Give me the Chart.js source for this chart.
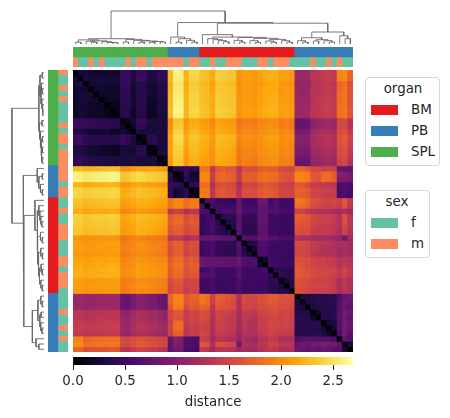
<!DOCTYPE html>
<html>
<head>
<meta charset="utf-8">
<script src="https://cdn.jsdelivr.net/npm/chart.js@4"></script>
<style>
  body { margin: 0; background: #fff; font-family: "DejaVu Sans", sans-serif; color: #262626; }
  canvas { position: absolute; }
  .legend { position: absolute; box-sizing: border-box; border: 1px solid #d6d6d6; border-radius: 4px; background: #fff; }
  .legend div { position: absolute; font-size: 13.4px; line-height: 16px; white-space: nowrap; }
  .legend .swatch { width: 27px; height: 10px; left: 5px; }
</style>
</head>
<body>
<canvas id="topTree" width="280" height="35" style="left:73px;top:9px"></canvas>
<canvas id="leftTree" width="34" height="282" style="left:10px;top:70px"></canvas>
<canvas id="colColors" width="280" height="20" style="left:73px;top:47px"></canvas>
<canvas id="rowColors" width="20" height="282" style="left:48px;top:70px"></canvas>
<canvas id="heat" width="280" height="282" style="left:73px;top:70px"></canvas>
<canvas id="cbar" width="340" height="54" style="left:43px;top:357px"></canvas>
<div id="legends"></div>
<script>
const organNames = ["BM", "PB", "SPL"];
const organColors = ["#e41a1c", "#377eb8", "#4daf4a"];
const sexNames = ["f", "m"];
const sexColors = ["#66c2a5", "#fc8d62"];

// leaf order, same for rows and columns
const organLeaf = "SSSSSSSSSSSSSSSSSS PPPPPP BBBBBBBBBBBBBBBBBB PPPPPPPPPPP".replace(/ /g, "").split("");
const sexLeaf = "m ff m f m ffff m f mm f mmmmmm f mm ff m ff mmm fff mm f mmm ffff m ff m f m ff".replace(/ /g, "").split("");
const leaves = organLeaf.map((_, i) => String(i));

// linkage: [height, left, right], 0 = a leaf
const splA = [.125, [.055, 0, 0], [.095, [.085, 0, [.055, 0, 0]], [.07, 0, [.05, 0, [.04, 0, 0]]]]];
const splB = [.14, [.06, 0, 0], [.11, 0, [.09, [.05, 0, 0], [.075, [.05, 0, 0], [.06, 0, 0]]]]];
const pbFirst = [.21, 0, [.16, [.055, 0, 0], [.11, 0, [.055, 0, 0]]]];
const bmTree = [.283, 0, [.21, [.16, 0, [.13, 0, [.1, 0, [.07, 0, 0]]]],
  [.2, [.11, 0, [.055, 0, 0]], [.17, [.1, 0, [.05, 0, 0]], [.14, [.09, 0, [.055, 0, 0]], [.1, 0, [.055, 0, 0]]]]]]];
const pbSecond = [.363, [.19, [.1, 0, [.055, 0, 0]], [.13, [.09, 0, 0], [.1, 0, [.06, 0, 0]]]], [.25, 0, [.16, 0, 0]]];
const linkage = [1, [.16, splA, splB], [.65, pbFirst, [.63, bmTree, pbSecond]]];

// distance x 100, upper triangle, each row starts right of the diagonal
const upper = [
[25,26,22,20,22,19,18,19, 47,47,30,47,47,32,32,42,42, 225,260,260,222,242,242, 230,228,218,238,236,234,232,206,212,212,208,214,218,220,222,210,212,208, 112,110,112,132,135,140,142,138,195,200,175],
[30,24,28,27,24,26,24, 50,47,30,52,52,33,33,44,44, 226,258,258,224,240,240, 232,228,220,238,236,234,232,205,210,212,208,214,218,222,220,212,212,208, 114,112,112,134,134,140,144,138,195,200,175],
[22,24,26,22,24,22, 46,45,26,40,40,27,27,36,36, 222,252,252,218,236,236, 226,224,214,232,232,228,226,202,208,208,204,210,214,216,218,206,208,204, 108,108,108,128,130,136,138,132,176,182,159],
[22,22,20,20,20, 44,44,22,38,38,25,25,34,34, 222,254,254,220,238,238, 228,226,216,234,232,230,228,204,208,208,206,212,216,218,218,208,210,206, 110,108,110,130,130,138,140,134,178,184,161],
[20,18,17,17, 42,42,22,38,38,24,24,33,33, 224,256,256,222,240,240, 228,226,218,236,234,232,228,204,210,210,206,214,218,218,220,208,210,206, 110,108,110,130,132,138,140,134,180,186,161],
[17,16,16, 40,40,22,38,38,20,20,33,33, 226,258,258,222,240,240, 230,226,218,236,234,232,230,204,210,210,208,214,216,220,220,210,210,208, 110,110,112,130,134,140,142,136,180,186,163],
[12,12, 40,40,24,38,38,18,18,32,32, 226,260,260,224,240,240, 230,228,218,238,234,232,230,206,212,210,208,214,218,220,222,210,212,208, 112,110,112,132,134,142,142,138,182,186,163],
[8, 38,38,20,36,36,16,16,30,30, 228,262,262,224,242,242, 232,228,220,240,236,234,232,206,212,212,210,216,220,222,222,212,212,210, 112,112,112,134,136,142,144,138,182,188,165],
[36,36,18,35,35,14,14,28,28, 226,260,260,222,240,240, 230,228,218,238,234,232,230,204,212,210,208,214,218,220,220,210,212,208, 112,110,112,132,134,140,142,136,182,186,163],
[15,25,48,48,30,30,30,30, 200,230,230,205,218,218, 212,208,198,215,212,210,208,185,192,192,188,195,198,200,200,190,192,188, 80,78,80,105,108,112,114,108,150,155,132],
[20,42,42,28,28,28,28, 202,234,234,208,220,220, 214,210,200,218,214,212,210,188,194,194,190,198,200,202,202,192,194,190, 78,76,78,104,106,110,112,106,150,152,130],
[30,28,28,26,30,30, 208,240,240,214,225,225, 218,214,204,222,218,216,214,192,198,198,196,202,204,206,206,196,198,194, 90,88,90,115,118,122,124,118,156,160,138],
[12,38,38,28,28, 214,245,245,218,232,232, 224,220,210,228,226,224,222,196,204,204,200,206,210,212,212,202,204,200, 100,98,100,122,125,130,132,126,162,168,148],
[40,40,30,30, 212,242,242,216,228,228, 222,218,208,226,224,222,220,194,202,202,198,204,208,210,210,200,202,198, 98,96,98,120,122,128,130,124,160,166,146],
[10,26,28, 216,238,238,212,226,226, 220,216,206,224,222,220,216,190,198,198,196,202,206,208,208,198,200,196, 92,90,92,116,118,124,126,120,155,162,140],
[30,30, 214,236,236,210,225,225, 218,214,204,222,220,218,214,188,196,196,194,200,204,206,206,196,198,194, 90,90,90,114,116,122,124,118,154,160,138],
[14, 210,234,234,208,222,222, 216,212,202,220,218,216,212,186,194,194,190,198,202,204,204,194,196,192, 82,80,82,108,110,116,118,112,150,155,132],
[208,232,232,206,220,220, 214,210,200,218,216,212,210,184,192,190,188,196,200,202,202,192,194,190, 78,76,78,104,106,112,114,108,146,152,128],
[40,42,45,42,45, 185,185,135,165,170,165,162,132,160,158,155,168,172,170,168,155,152,150, 175,175,165,150,150,145,148,145,78,76,76],
[15,45,22,22, 198,198,145,175,180,172,168,138,172,170,170,180,185,182,180,165,162,160, 195,195,190,165,165,178,180,170,95,95,85],
[40,28,28, 198,196,142,176,178,172,170,138,172,172,170,182,185,180,178,165,162,158, 196,194,190,165,162,180,178,170,92,92,85],
[40,45, 180,180,128,155,160,155,150,122,150,150,148,160,165,160,158,148,145,142, 165,165,155,142,140,138,135,135,62,62,58],
[12, 188,190,135,165,168,160,158,128,158,158,155,168,170,168,165,152,150,148, 175,172,168,150,148,148,145,140,60,62,58],
[190,188,135,162,165,160,158,130,158,156,155,165,170,168,165,150,150,146, 172,170,165,148,148,145,142,140,58,58,55],
[60,60,46,46,46,42,78,50,50,50,82,82,50,62,52,52,52, 190,188,175,160,158,150,148,152,145,165,140],
[56,56,52,52,52,80,56,54,54,76,76,56,64,54,54,54, 182,180,172,155,152,148,145,148,140,160,135],
[54,58,58,56,78,60,60,58,76,76,64,64,58,58,58, 145,145,135,130,128,125,125,122,118,125,115],
[40,44,42,74,46,46,44,76,76,52,52,50,50,50, 172,170,165,150,148,145,145,140,130,160,135],
[34,38,72,44,44,44,74,74,52,52,48,48,48, 168,165,162,148,145,145,142,140,128,158,132],
[34,72,44,42,42,72,72,52,52,50,50,50, 162,160,158,145,142,140,138,135,125,150,130],
[70,42,42,40,70,70,52,52,48,48,48, 158,155,155,140,140,138,138,132,122,148,128],
[64,64,62,78,78,66,66,58,60,60, 128,125,122,120,118,115,118,112,108,85,115],
[32,38,62,62,52,52,50,50,50, 155,155,150,140,138,135,132,128,122,125,118],
[28,60,60,50,52,50,50,50, 152,150,148,138,135,128,128,125,118,122,115],
[60,60,50,52,50,50,48, 150,148,145,136,132,128,126,125,115,120,118],
[22,54,54,50,48,48, 160,158,155,148,145,145,142,138,130,135,128],
[56,52,50,50,50, 162,160,155,148,145,145,140,140,128,135,130],
[40,42,40,40, 168,166,160,155,150,152,150,148,138,148,138],
[44,38,38, 170,165,162,155,152,152,150,145,135,145,135],
[24,38, 160,158,155,148,145,148,145,140,122,135,125],
[36, 162,158,155,150,150,150,148,140,125,135,125],
[158,155,152,145,145,145,142,138,120,130,122],
[30,32,36,38,40,40,38,60,75,80],
[28,33,38,38,38,40,66,82,78],
[30,36,36,38,38,66,80,72],
[20,38,36,40,68,86,80],
[38,36,40,68,86,74],
[24,30,66,90,78],
[22,66,88,78],
[60,85,68],
[74,64],
[26],
[]
];

const vmax = 2.69;
const cbarTicks = [0, 0.5, 1, 1.5, 2, 2.5];
const inferno = ["#000004", "#160b39", "#420a68", "#6a176e", "#932667", "#bc3754", "#dd513a", "#f37819", "#fca50a", "#f6d746", "#fcffa4"];

Chart.defaults.animation = false;
Chart.defaults.responsive = false;
Chart.defaults.plugins.legend.display = false;
Chart.defaults.plugins.tooltip.enabled = false;
Chart.defaults.font.family = "'DejaVu Sans'";

const n = leaves.length;
const rgb = hex => [1, 3, 5].map(k => parseInt(hex.substr(k, 2), 16));

function cmap(v) {
    const t = Math.min(v / vmax, 1) * (inferno.length - 1);
    const i = Math.min(Math.floor(t), inferno.length - 2);
    const a = rgb(inferno[i]), b = rgb(inferno[i + 1]);
    const c = a.map((x, k) => Math.round(x + (b[k] - x) * (t - i)));
    return `rgb(${c[0]},${c[1]},${c[2]})`;
}

function distance(i, j) {
    if (i === j) return 0;
    const a = Math.min(i, j), b = Math.max(i, j);
    return upper[a][b - a - 1] / 100;
}

const hidden = { display: false, grid: { display: false } };
const barBase = { grouped: false, barPercentage: 1, categoryPercentage: 1, inflateAmount: 0.4, borderWidth: 0 };

// heatmap: one dataset per row, each bar floats across its own row
new Chart(document.getElementById("heat"), {
    type: "bar",
    data: {
        labels: leaves,
        datasets: leaves.map((_, r) => ({
            ...barBase,
            data: leaves.map(() => [r, r + 1]),
            backgroundColor: leaves.map((_, c) => cmap(distance(r, c)))
        }))
    },
    options: {
        layout: { padding: 0 },
        scales: {
            x: { ...hidden, type: "category" },
            y: { ...hidden, type: "linear", min: 0, max: n, reverse: true }
        }
    }
});

// organ and sex strips
const organColor = leaves.map((_, i) => organColors[organNames.findIndex(o => o[0] === organLeaf[i])]);
const sexColor = leaves.map((_, i) => sexColors[sexNames.indexOf(sexLeaf[i])]);

new Chart(document.getElementById("colColors"), {
    type: "bar",
    data: {
        labels: leaves,
        datasets: [
            { ...barBase, data: leaves.map(() => [0, 0.98]), backgroundColor: organColor },
            { ...barBase, data: leaves.map(() => [1.02, 2]), backgroundColor: sexColor }
        ]
    },
    options: {
        layout: { padding: 0 },
        scales: {
            x: { ...hidden, type: "category" },
            y: { ...hidden, type: "linear", min: 0, max: 2, reverse: true }
        }
    }
});

new Chart(document.getElementById("rowColors"), {
    type: "bar",
    data: {
        labels: leaves,
        datasets: [
            { ...barBase, data: leaves.map(() => [0, 0.98]), backgroundColor: organColor },
            { ...barBase, data: leaves.map(() => [1.02, 2]), backgroundColor: sexColor }
        ]
    },
    options: {
        indexAxis: "y",
        layout: { padding: 0 },
        scales: {
            y: { ...hidden, type: "category" },
            x: { ...hidden, type: "linear", min: 0, max: 2 }
        }
    }
});

// walk the linkage in leaf order, returns one [xl, xr, hl, hr, h] per link
function collectLinks(tree) {
    const links = [];
    let next = 0;
    (function walk(node) {
        if (node === 0) return { pos: next++ + 0.5, h: 0 };
        const l = walk(node[1]), r = walk(node[2]);
        links.push([l.pos, r.pos, l.h, r.h, node[0]]);
        return { pos: (l.pos + r.pos) / 2, h: node[0] };
    })(tree);
    return links;
}
const links = collectLinks(linkage);
const treeStyle = { showLine: true, pointRadius: 0, borderColor: "#6a6a6a", borderWidth: 0.9, clip: false };

new Chart(document.getElementById("topTree"), {
    type: "scatter",
    data: {
        datasets: links.map(([xl, xr, hl, hr, h]) => ({
            ...treeStyle,
            data: [{ x: xl, y: hl }, { x: xl, y: h }, { x: xr, y: h }, { x: xr, y: hr }]
        }))
    },
    options: {
        layout: { padding: 0 },
        scales: {
            x: { ...hidden, min: 0, max: n },
            y: { ...hidden, min: 0, max: 1.06 }
        }
    }
});

new Chart(document.getElementById("leftTree"), {
    type: "scatter",
    data: {
        datasets: links.map(([xl, xr, hl, hr, h]) => ({
            ...treeStyle,
            data: [{ x: hl, y: xl }, { x: h, y: xl }, { x: h, y: xr }, { x: hr, y: xr }]
        }))
    },
    options: {
        layout: { padding: 0 },
        scales: {
            x: { ...hidden, min: 0, max: 1.06, reverse: true },
            y: { ...hidden, min: 0, max: n, reverse: true }
        }
    }
});

// colorbar
new Chart(document.getElementById("cbar"), {
    type: "bar",
    data: {
        labels: ["distance"],
        datasets: [{
            ...barBase,
            data: [[0, vmax]],
            backgroundColor: ctx => {
                const area = ctx.chart.chartArea;
                if (!area) return inferno[0];
                const g = ctx.chart.ctx.createLinearGradient(area.left, 0, area.right, 0);
                inferno.forEach((c, i) => g.addColorStop(i / (inferno.length - 1), c));
                return g;
            }
        }]
    },
    options: {
        indexAxis: "y",
        layout: { padding: { left: 30, right: 30 } },
        scales: {
            y: { ...hidden, type: "category" },
            x: {
                type: "linear",
                min: 0,
                max: vmax,
                afterFit: s => { s.height = 46; },
                afterBuildTicks: s => { s.ticks = cbarTicks.map(v => ({ value: v })); },
                border: { display: false },
                grid: { drawOnChartArea: false, drawTicks: true, tickLength: 5, tickColor: "#262626", tickWidth: 1 },
                ticks: {
                    color: "#262626",
                    padding: 3,
                    maxRotation: 0,
                    font: { size: 13.4 },
                    callback: v => v.toFixed(1)
                },
                title: { display: true, text: "distance", color: "#262626", font: { size: 13.4 }, padding: { top: 3, bottom: 0 } }
            }
        }
    }
});

// legends are plain boxes placed next to the heatmap
function addLegend(title, names, colors, box, titleCenter, firstTop, labelLeft) {
    const el = document.createElement("div");
    el.className = "legend";
    Object.assign(el.style, { left: box[0] + "px", top: box[1] + "px", width: box[2] + "px", height: box[3] + "px" });
    const t = document.createElement("div");
    t.textContent = title;
    Object.assign(t.style, { left: titleCenter + "px", top: "3px", transform: "translateX(-50%)" });
    el.appendChild(t);
    names.forEach((name, i) => {
        const swatch = document.createElement("div");
        swatch.className = "swatch";
        swatch.style.background = colors[i];
        swatch.style.top = (firstTop + i * 21) + "px";
        el.appendChild(swatch);
        const label = document.createElement("div");
        label.textContent = name;
        label.style.left = labelLeft + "px";
        label.style.top = (firstTop + i * 21 - 3) + "px";
        el.appendChild(label);
    });
    document.getElementById("legends").appendChild(el);
}
addLegend("organ", organNames, organColors, [365, 77, 75, 89], 37, 27, 45);
addLegend("sex", sexNames, sexColors, [365, 190, 65, 68], 31, 27, 45);
</script>
</body>
</html>
